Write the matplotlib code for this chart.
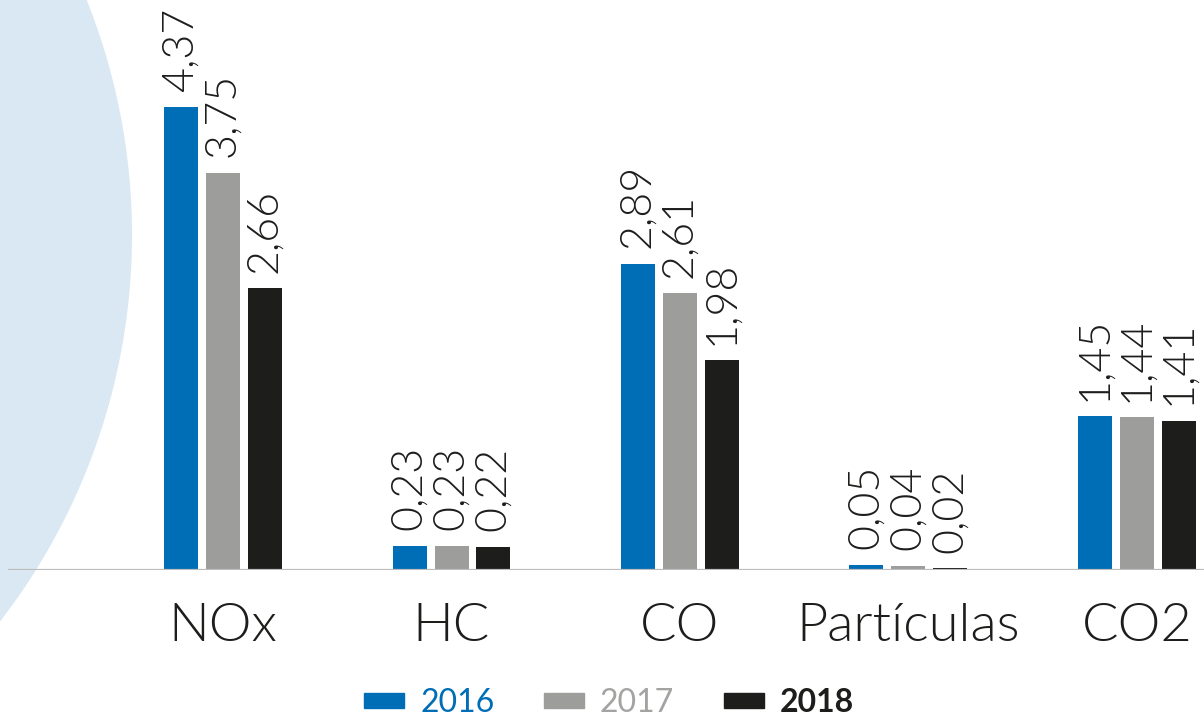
import numpy as np
import matplotlib
matplotlib.use("Agg")
import matplotlib.pyplot as plt
from matplotlib.patches import Circle, Rectangle

categories = ["NOx", "HC", "CO", "Partículas", "CO2"]
years = ["2016", "2017", "2018"]
v2016 = [4.37, 0.23, 2.89, 0.05, 1.45]
v2017 = [3.75, 0.23, 2.61, 0.04, 1.44]
v2018 = [2.66, 0.22, 1.98, 0.02, 1.41]
series = [v2016, v2017, v2018]
colors = ["#006eb6", "#9d9d9c", "#1d1d1b"]
text_colors = ["#006eb6", "#a3a3a2", "#1d1d1b"]

plt.rcParams['font.family'] = ['Lato', 'DejaVu Sans']

W, H = 1204, 717
fig = plt.figure(figsize=(W / 100, H / 100), dpi=100)

# background decoration: big pale circle on the left
bg = fig.add_axes([0, 0, 1, 1])
bg.set_xlim(0, W)
bg.set_ylim(H, 0)
bg.axis("off")
bg.add_patch(Circle((-500, 235), 632, color="#d9e8f3", lw=0))

base_y = 570
ax = fig.add_axes([0, (H - base_y) / H, 1, base_y / H])
ax.patch.set_alpha(0)
px_per_unit = 106.0
ax.set_ylim(0, base_y / px_per_unit)

step = 228.5
x0 = 223
ax.set_xlim(-x0 / step, (W - x0) / step)
x = np.arange(len(categories))
width = 34 / step
offset = 42 / step

for i, vals in enumerate(series):
    bars = ax.bar(x + (i - 1) * offset, vals, width, color=colors[i], zorder=2)
    for b, v in zip(bars, vals):
        ax.annotate(f"{v:.2f}".replace(".", ","),
                    (b.get_x() + b.get_width() / 2, b.get_height()),
                    xytext=(0, 11), textcoords="offset points",
                    rotation=90, ha="center", va="bottom",
                    fontsize=31, fontweight=300, color="#1d1d1b")

ax.axhline(0, xmin=9 / W, xmax=1, color="#bdbdbd", lw=1.6, zorder=3)

ax.set_xticks(x)
ax.set_xticklabels(categories, fontsize=39, fontweight=300, color="#1d1d1b")
ax.tick_params(axis="x", length=0, pad=24)
ax.set_yticks([])
for s in ax.spines.values():
    s.set_visible(False)

handles = [Rectangle((0, 0), 1, 1, color=c) for c in colors]
leg = fig.legend(handles, years, loc="center", bbox_to_anchor=(609 / W, 1 - 703 / H),
                 ncol=3, frameon=False, fontsize=23, handlelength=1.25,
                 handleheight=0.37, handletextpad=0.5, columnspacing=1.55)
for t, c in zip(leg.get_texts(), text_colors):
    t.set_color(c)
leg.get_texts()[2].set_fontweight("bold")

fig.savefig("out.png", dpi=100)
